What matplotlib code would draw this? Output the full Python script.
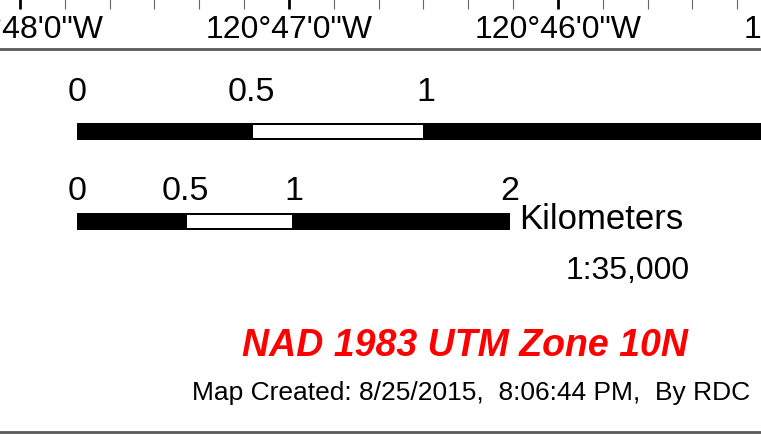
import matplotlib
matplotlib.use("Agg")
import matplotlib.pyplot as plt

plt.rcParams['font.family'] = ['Liberation Sans', 'DejaVu Sans']

# ---- data ----
lon_major_sec = [0, 60, 120, 180]          # seconds east of 120°48'0"W
lon_labels = ["120°48'0\"W", "120°47'0\"W", "120°46'0\"W", "120°45'0\"W"]
lon_minor_sec = [s for s in range(-10, 190, 10) if s % 60 != 0]

MI_TO_KM = 1.609344
mile_edges = [0, 0.5, 1, 2]
mile_colors = ["black", "white", "black"]
mile_ticks = [0, 0.5, 1]
mile_labels = ["0", "0.5", "1"]

km_edges = [0, 0.5, 1, 2]
km_colors = ["black", "white", "black"]
km_ticks = [0, 0.5, 1, 2]
km_labels = ["0", "0.5", "1", "2"]

W, H = 761, 435
fig = plt.figure(figsize=(W / 100, H / 100), dpi=100)

# ---- top longitude strip ----
px_per_sec = 269 / 60.0
x0_px = 20
axt = fig.add_axes([0, 1 - 50 / H, 1, 50 / H])
for s in ['top', 'left', 'right']:
    axt.spines[s].set_visible(False)
axt.spines['bottom'].set_color('#5a5a5a')
axt.spines['bottom'].set_linewidth(2.0)
axt.set_yticks([])
axt.xaxis.set_ticks_position('top')
axt.set_xticks(lon_major_sec)
axt.set_xticks(lon_minor_sec, minor=True)
axt.tick_params(axis='x', which='major', direction='in', length=7.5, width=2.0,
                color='black', labeltop=False, labelbottom=False)
axt.tick_params(axis='x', which='minor', direction='in', length=7, width=0.8,
                color='#666666', labeltop=False, labelbottom=False)
axt.set_xlim(-x0_px / px_per_sec, (W - x0_px) / px_per_sec)
axt.set_ylim(0, 50)
for s, lab in zip(lon_major_sec, lon_labels):
    axt.text(s, 50 - 38, lab, ha='center', va='baseline', fontsize=23, color='black', clip_on=True)

# ---- main area: x in km, y in pixels (inverted) ----
px_per_km = 216.5
x_origin = 77
ax = fig.add_axes([0, 0, 1, 1 - 50 / H])
ax.set_xlim(-x_origin / px_per_km, (W - x_origin) / px_per_km)
ax.set_ylim(H, 50)
ax.axis('off')

# Scale bar 1 (miles)
for a, b, c in zip(mile_edges[:-1], mile_edges[1:], mile_colors):
    ax.barh(132.5, (b - a) * MI_TO_KM, left=a * MI_TO_KM, height=17, color='black', linewidth=0)
    if c == 'white':
        ax.barh(132.5, (b - a) * MI_TO_KM - 4 / px_per_km, left=a * MI_TO_KM + 2 / px_per_km,
                height=13, color='white', linewidth=0)
for t, lab in zip(mile_ticks, mile_labels):
    ax.text(t * MI_TO_KM, 101, lab, ha='center', va='baseline', fontsize=24.5, color='black')

# Scale bar 2 (km)
for a, b, c in zip(km_edges[:-1], km_edges[1:], km_colors):
    ax.barh(222.5, b - a, left=a, height=17, color='black', linewidth=0)
    if c == 'white':
        ax.barh(222.5, (b - a) - 4 / px_per_km, left=a + 2 / px_per_km, height=13,
                color='white', linewidth=0)
for t, lab in zip(km_ticks, km_labels):
    ax.text(t, 200, lab, ha='center', va='baseline', fontsize=24.5, color='black')

ax.text(km_edges[-1] + 9 / px_per_km, 229, "Kilometers", ha='left', va='baseline',
        fontsize=25, color='black')

ax.text((690 - x_origin) / px_per_km, 279, "1:35,000", ha='right', va='baseline',
        fontsize=23, color='black')

ax.text((688 - x_origin) / px_per_km, 356, "NAD 1983 UTM Zone 10N", ha='right', va='baseline',
        fontsize=27, color='#ff0000', fontweight='bold', fontstyle='italic')

ax.text((750 - x_origin) / px_per_km, 400, "Map Created: 8/25/2015,  8:06:44 PM,  By RDC",
        ha='right', va='baseline', fontsize=19, color='black')

# bottom rule
ax.axhline(433, color='#5a5a5a', linewidth=2.0)

fig.savefig("out.png", dpi=100)
